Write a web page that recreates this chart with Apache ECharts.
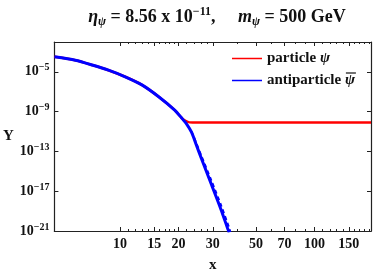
<!DOCTYPE html>
<html><head><meta charset="utf-8">
<script src="https://cdn.jsdelivr.net/npm/echarts@6/dist/echarts.min.js"></script>
<style>html,body{margin:0;padding:0;background:#fff}#c{width:374px;height:278px}</style>
</head><body><div id="c"></div>
<script>
// x values (linear) and log10(Y) values
const antiX    = [4.6, 5.89, 7.19, 8.79, 10.7, 12.95, 15.8, 19.1, 20.7, 22.0, 23.3, 24.7, 26.2, 29.5, 33.1, 35.9, 36.4];
const antiLogY = [-3.48, -3.83, -4.31, -4.86, -5.52, -6.31, -7.50, -8.85, -9.62, -10.25, -11.07, -12.37, -13.72, -16.32, -18.88, -20.86, -21.15];
const partX    = [4.6, 5.89, 7.19, 8.79, 10.7, 12.95, 15.8, 19.1, 20.7, 21.7, 22.8, 25, 40, 100, 195];
const partLogY = [-3.48, -3.83, -4.31, -4.86, -5.52, -6.31, -7.50, -8.85, -9.62, -9.92, -10.08, -10.1, -10.1, -10.1, -10.1];
const eqX      = [23.3, 24.7, 26.2, 29.5, 33.1, 36.4, 37.0];
const eqLogY   = [-11.0, -12.2, -13.45, -15.95, -18.45, -20.7, -21.2];
const xTicks = [10, 15, 20, 30, 50, 70, 100, 150];
const xMinor = [11,12,13,14,16,17,18,19,22,24,26,28,40,60,80,90,110,120,130,140,160,170,180,190];
const yTicks = [-21, -17, -13, -9, -5];
const xRange = [4.6, 195];
const yRange = [-21, -2];
const seriesNames = ['particle {i|ψ}', 'antiparticle {i|ψ}'];

const L = Math.log10;
const pts = (xs, ys) => xs.map((x, i) => [L(x), ys[i]]);
const ser = 'Liberation Serif';
const axCol = '#222';

function xAxisDef(pos, vals, len, show) {
  return {
    type: 'value', position: pos, min: L(xRange[0]), max: L(xRange[1]),
    axisLine: {show: true, onZero: false, lineStyle: {color: axCol, width: 1.2}},
    splitLine: {show: false},
    axisTick: {show: true, inside: true, length: len, customValues: vals.map(L), lineStyle: {color: axCol, width: 1}},
    axisLabel: {show: show, customValues: vals.map(L), margin: 6,
      formatter: v => String(Math.round(Math.pow(10, v))),
      fontFamily: ser, fontWeight: 'bold', fontSize: 14, color: '#111'}
  };
}
function yAxisDef(pos, show) {
  return {
    type: 'value', position: pos, min: yRange[0], max: yRange[1],
    axisLine: {show: true, onZero: false, lineStyle: {color: axCol, width: 1.2}},
    splitLine: {show: false},
    axisTick: {show: true, inside: true, length: 4, customValues: yTicks, lineStyle: {color: axCol, width: 1}},
    axisLabel: {show: show, customValues: yTicks, margin: 5,
      formatter: v => '{b|10}{s|−' + Math.abs(Math.round(v)) + '}',
      rich: {b: {fontFamily: ser, fontWeight: 'bold', fontSize: 14, color: '#111'},
             s: {fontFamily: ser, fontWeight: 'bold', fontSize: 10, color: '#111', padding: [0,0,8,0]}}}
  };
}

// overline over the legend's antiparticle psi
const legLeft = 232, legTop = 51, iconW = 30, rowH = 16, gap = 7, fs = 15;
const meas = document.createElement('canvas').getContext('2d');
meas.font = 'bold ' + fs + 'px "' + ser + '"';
const wPre = meas.measureText('antiparticle ').width;
meas.font = 'italic bold ' + fs + 'px "' + ser + '"';
const wPsi = meas.measureText('ψ').width;
const psiX = legLeft + iconW + 5 + wPre;
const row2Mid = legTop + rowH + gap + rowH / 2;

const chart = echarts.init(document.getElementById('c'), null, {renderer: 'canvas'});
chart.setOption({
  animation: false,
  backgroundColor: '#fff',
  grid: {left: 52, right: 3, top: 42, bottom: 39, containLabel: false},
  title: {
    text: '{e|η}{sub|ψ}{n| = 8.56 x 10}{sup|−11}{n|,     }{e|m}{sub|ψ}{n| = 500 GeV}',
    left: 212, textAlign: 'center', top: 1,
    textStyle: {
      rich: {
        e: {fontFamily: ser, fontStyle: 'italic', fontWeight: 'bold', fontSize: 18, color: '#111'},
        n: {fontFamily: ser, fontWeight: 'bold', fontSize: 18, color: '#111'},
        sub: {fontFamily: ser, fontStyle: 'italic', fontWeight: 'bold', fontSize: 12, color: '#111', padding: [7,0,0,0], verticalAlign: 'bottom'},
        sup: {fontFamily: ser, fontWeight: 'bold', fontSize: 12, color: '#111', padding: [0,0,10,0]}
      }
    }
  },
  legend: {
    orient: 'vertical', left: legLeft, top: legTop, itemGap: gap, padding: 0,
    itemWidth: iconW, itemHeight: rowH,
    data: [
      {name: seriesNames[0], icon: 'path://M0,0 L30,0 L30,1.5 L0,1.5 Z'},
      {name: seriesNames[1], icon: 'path://M0,0 L30,0 L30,1.5 L0,1.5 Z'}
    ],
    textStyle: {fontFamily: ser, fontWeight: 'bold', fontSize: fs, color: '#111',
      rich: {i: {fontFamily: ser, fontStyle: 'italic', fontWeight: 'bold', fontSize: fs, color: '#111'}}}
  },
  graphic: [{
    type: 'line', silent: true,
    shape: {x1: psiX + 1, y1: row2Mid - 9, x2: psiX + wPsi + 1, y2: row2Mid - 9},
    style: {stroke: '#111', lineWidth: 1.2}
  }],
  xAxis: [
    Object.assign(xAxisDef('bottom', xTicks, 4, true), {name: 'x', nameLocation: 'middle', nameGap: 27,
      nameTextStyle: {fontFamily: ser, fontWeight: 'bold', fontSize: 15, color: '#111'}}),
    xAxisDef('bottom', xMinor, 2, false),
    xAxisDef('top', xTicks, 4, false),
    xAxisDef('top', xMinor, 2, false)
  ],
  yAxis: [
    Object.assign(yAxisDef('left', true), {name: 'Y', nameLocation: 'middle', nameGap: 40, nameRotate: 0,
      nameTextStyle: {fontFamily: ser, fontWeight: 'bold', fontSize: 15, color: '#111'}}),
    yAxisDef('right', false)
  ],
  series: [
    {name: seriesNames[0], type: 'line', data: pts(partX, partLogY), showSymbol: false, smooth: 0.25,
      lineStyle: {color: '#f00', width: 2.5}, itemStyle: {color: '#f00'}, clip: true, z: 2},
    {name: seriesNames[1], type: 'line', data: pts(antiX, antiLogY), showSymbol: false, smooth: 0.25,
      lineStyle: {color: '#00f', width: 3}, itemStyle: {color: '#00f'}, clip: true, z: 3},
    {name: 'eq', type: 'line', data: pts(eqX, eqLogY), showSymbol: false, smooth: 0.25,
      lineStyle: {color: '#00f', width: 2, type: [4, 3]}, clip: true, z: 3}
  ]
});
</script></body></html>
